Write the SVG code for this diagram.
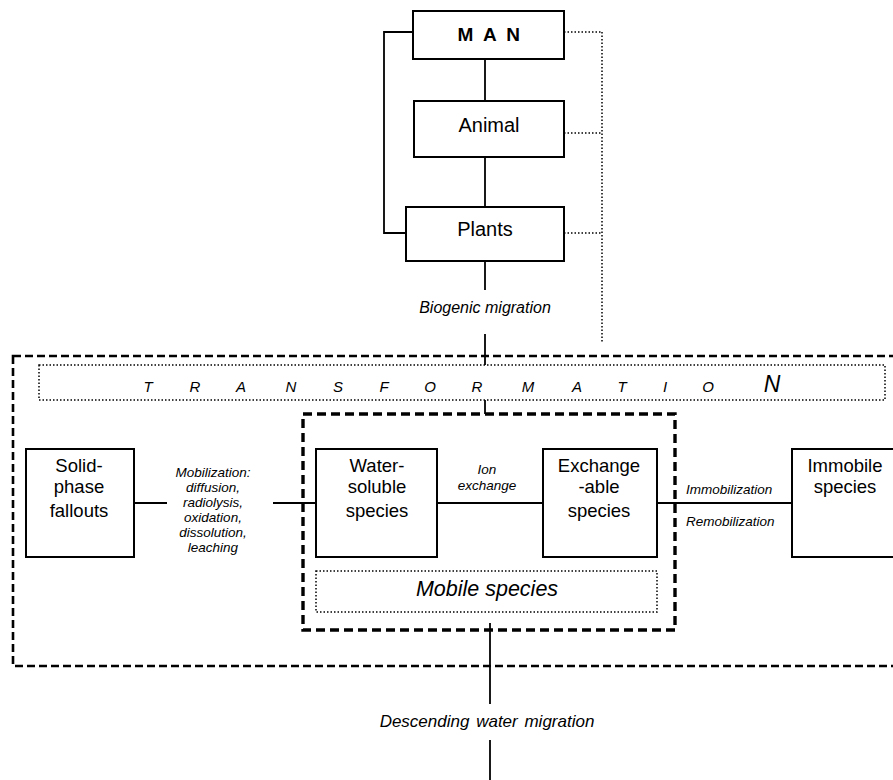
<svg xmlns="http://www.w3.org/2000/svg" width="893" height="780" viewBox="0 0 893 780">
<style>
.box{fill:#fff;stroke:#000;stroke-width:2}
.ln{fill:none;stroke:#000;stroke-width:1.8}
.dot{fill:none;stroke:#000;stroke-width:1.5;stroke-dasharray:1.5 2}
.t{font-family:"Liberation Sans",Arial,sans-serif;font-size:18.5px;fill:#000;text-anchor:middle}
.tt{font-family:"Liberation Sans",Arial,sans-serif;font-size:20px;fill:#000;text-anchor:middle}
.i{font-family:"Liberation Sans",Arial,sans-serif;font-style:italic;fill:#000;text-anchor:middle}
</style>
<rect width="893" height="780" fill="#fff"/>
<g id="outer-zone"><rect x="13" y="356" width="900" height="310" fill="none" stroke="#000" stroke-width="2.6" stroke-dasharray="8 4"/></g>
<g id="transformation">
<rect x="39" y="365" width="846" height="35" class="dot"/>
<text class="i" font-size="15" y="392"><tspan x="148">T</tspan><tspan x="195">R</tspan><tspan x="241">A</tspan><tspan x="291">N</tspan><tspan x="338">S</tspan><tspan x="384">F</tspan><tspan x="430">O</tspan><tspan x="477">R</tspan><tspan x="528">M</tspan><tspan x="577">A</tspan><tspan x="622">T</tspan><tspan x="665">I</tspan><tspan x="708">O</tspan></text>
<text class="i" font-size="23" x="772" y="392">N</text>
</g>
<g id="mobile-zone"><rect x="303" y="414" width="372" height="216" fill="none" stroke="#000" stroke-width="3.4" stroke-dasharray="9 5"/></g>
<g id="connectors">
<line class="ln" x1="485" y1="59" x2="485" y2="101"/>
<line class="ln" x1="485" y1="157" x2="485" y2="207"/>
<polyline class="ln" points="413,32 384,32 384,233 406,233"/>
<line class="ln" x1="485" y1="261" x2="485" y2="290"/>
<line class="ln" x1="485" y1="334" x2="485" y2="365"/>
<line class="ln" x1="485" y1="400" x2="485" y2="414"/>
<line class="dot" x1="564" y1="32" x2="602" y2="32"/>
<line class="dot" x1="564" y1="133" x2="602" y2="133"/>
<line class="dot" x1="564" y1="233" x2="602" y2="233"/>
<line class="dot" x1="602" y1="32" x2="602" y2="343"/>
<line class="ln" x1="134" y1="503" x2="167" y2="503"/>
<line class="ln" x1="273" y1="503" x2="316" y2="503"/>
<line class="ln" x1="437" y1="503" x2="543" y2="503"/>
<line class="ln" x1="657" y1="503" x2="792" y2="503"/>
<line class="ln" x1="490" y1="623" x2="490" y2="704"/>
<line class="ln" x1="490" y1="740" x2="490" y2="780"/>
<text class="i" font-size="16" x="485" y="313">Biogenic migration</text>
<text class="i" font-size="13.5"><tspan x="213" y="477">Mobilization:</tspan><tspan x="213" y="492">diffusion,</tspan><tspan x="213" y="507">radiolysis,</tspan><tspan x="213" y="522">oxidation,</tspan><tspan x="213" y="537">dissolution,</tspan><tspan x="213" y="552">leaching</tspan></text>
<text class="i" font-size="13.5"><tspan x="487" y="474">Ion</tspan><tspan x="487" y="490">exchange</tspan></text>
<text class="i" font-size="13.5" style="text-anchor:start"><tspan x="686" y="494">Immobilization</tspan><tspan x="686" y="526">Remobilization</tspan></text>
<text class="i" font-size="17" x="487" y="727" word-spacing="2">Descending water migration</text>
</g>
<g id="man"><rect class="box" x="413" y="11" width="151" height="48"/><text class="tt" x="490" y="41" font-weight="bold" letter-spacing="2.5" style="font-size:19px">M A N</text></g>
<g id="animal"><rect class="box" x="414" y="101" width="150" height="56"/><text class="tt" x="489" y="132">Animal</text></g>
<g id="plants"><rect class="box" x="406" y="207" width="158" height="54"/><text class="tt" x="485" y="236">Plants</text></g>
<g id="solid-phase"><rect class="box" x="26" y="449" width="108" height="108"/><text class="t"><tspan x="79" y="472">Solid-</tspan><tspan x="79" y="493">phase</tspan><tspan x="79" y="517">fallouts</tspan></text></g>
<g id="water-soluble"><rect class="box" x="316" y="449" width="121" height="108"/><text class="t"><tspan x="377" y="472">Water-</tspan><tspan x="377" y="493">soluble</tspan><tspan x="377" y="517">species</tspan></text></g>
<g id="exchangeable"><rect class="box" x="543" y="449" width="114" height="108"/><text class="t"><tspan x="599" y="472">Exchange</tspan><tspan x="599" y="493">-able</tspan><tspan x="599" y="517">species</tspan></text></g>
<g id="mobile-species"><rect class="dot" x="316" y="571" width="341" height="41"/><text class="i" font-size="21.5" x="487" y="596">Mobile species</text></g>
<g id="immobile"><rect class="box" x="792" y="449" width="110" height="108"/><text class="t"><tspan x="845" y="472">Immobile</tspan><tspan x="845" y="493">species</tspan></text></g>
</svg>
